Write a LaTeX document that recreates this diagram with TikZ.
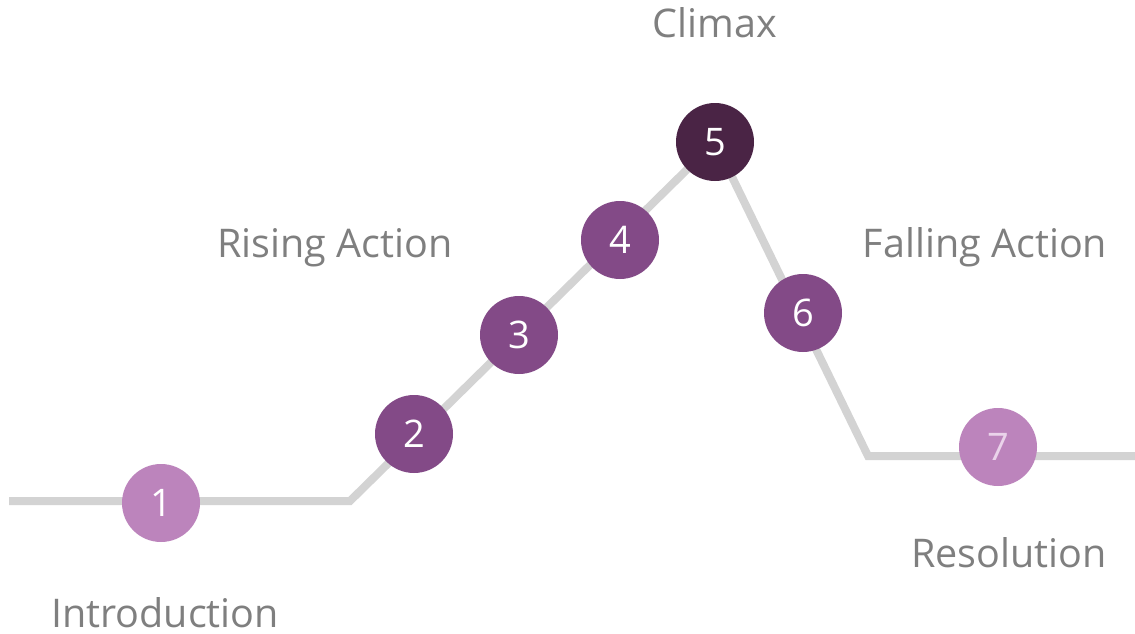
\documentclass[tikz,border=0pt]{standalone}
\usepackage{fontspec}
\setmainfont{Open Sans}
\definecolor{linegray}{HTML}{D3D3D3}
\definecolor{txtgray}{HTML}{7F7F7F}
\definecolor{plight}{HTML}{BC84BC}
\definecolor{pmid}{HTML}{834A87}
\definecolor{pdark}{HTML}{4A2445}
\definecolor{seven}{HTML}{EAD3EA}
\begin{document}
\begin{tikzpicture}[x=1pt,y=-1pt,
  dot/.style={circle,minimum size=78pt,inner sep=0pt,text=white,font=\fontsize{38}{44}\selectfont},
  lbl/.style={text=txtgray,font=\fontsize{39.5}{46}\selectfont,inner sep=0pt,anchor=base},
  track/.style={draw=linegray,line width=8pt,line join=miter}]
\useasboundingbox (0,0) rectangle (1135,634);
\coordinate (s) at (9,501);
\coordinate (c1) at (350,501);
\coordinate (c2) at (715,142);
\coordinate (c3) at (868,456);
\coordinate (e) at (1135,456);
\draw[track] (s) -- (c1) -- (c2) -- (c3) -- (e);
\node[dot,fill=plight] (n1) at (161,503) {1};
\node[dot,fill=pmid] (n2) at (414,434) {2};
\node[dot,fill=pmid] (n3) at (519,335) {3};
\node[dot,fill=pmid] (n4) at (620,240) {4};
\node[dot,fill=pdark] (n5) at (715,142) {5};
\node[dot,fill=pmid] (n6) at (803,313) {6};
\node[dot,fill=plight,text=seven] (n7) at (998,447) {7};
\node[lbl] (l5) at (715,38) {Climax};
\node[lbl] (l2) at (335,257) {Rising Action};
\node[lbl] (l6) at (985,257) {Falling Action};
\node[lbl] (l7) at (1009,567) {Resolution};
\node[lbl,text depth=0pt] (l1) at (165,627) {Introduction};
\end{tikzpicture}
\end{document}
